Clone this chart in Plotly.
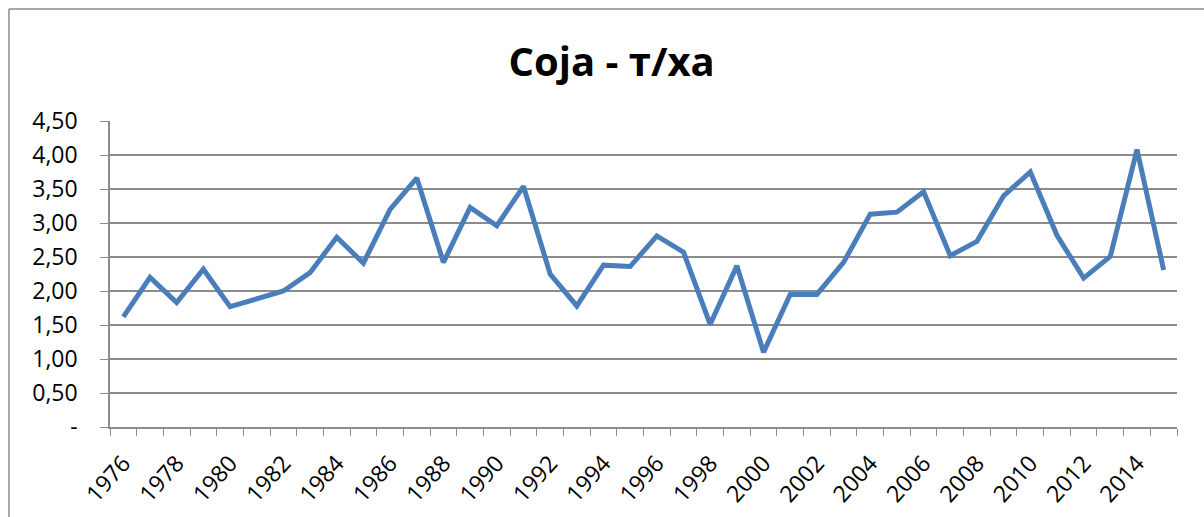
import plotly.graph_objects as go

# Soybean yield, t/ha, by year
years = list(range(1976, 2016))
yields = [1.62, 2.20, 1.83, 2.32, 1.77, 1.89, 2.00, 2.27, 2.79, 2.41,
          3.20, 3.66, 2.42, 3.23, 2.96, 3.54, 2.25, 1.78, 2.38, 2.36,
          2.81, 2.57, 1.51, 2.37, 1.10, 1.95, 1.95, 2.42, 3.13, 3.16,
          3.46, 2.52, 2.73, 3.40, 3.75, 2.82, 2.19, 2.51, 4.08, 2.31]

y_ticks = [0, 0.5, 1.0, 1.5, 2.0, 2.5, 3.0, 3.5, 4.0, 4.5]
y_labels = ["-", "0,50", "1,00", "1,50", "2,00", "2,50", "3,00", "3,50", "4,00", "4,50"]
x_ticks = list(range(1976, 2016, 2))

FONT = "Open Sans"
GRID = "#8c8c8c"

fig = go.Figure()
fig.add_trace(go.Scatter(
    x=years, y=yields, mode="lines",
    line=dict(color="#4a7ebb", width=5),
    showlegend=False, hoverinfo="x+y",
))

fig.update_layout(
    width=1204, height=517,
    margin=dict(l=110, r=27, t=121, b=90),
    paper_bgcolor="white", plot_bgcolor="white",
    font=dict(family=FONT, color="black", size=22),
    title=dict(text="<b>Соја - т/ха</b>", x=0.508, xanchor="center",
               y=0.88, yanchor="middle",
               font=dict(family=FONT, size=40, color="black")),
    xaxis=dict(
        range=[1975.5, 2015.5], tickmode="array", tickvals=x_ticks,
        ticktext=[str(v) for v in x_ticks], tickangle=-48,
        ticks="outside", ticklen=0, tickcolor=GRID,
        minor=dict(tick0=1975.5, dtick=1, ticks="outside", ticklen=7,
                   tickcolor=GRID, showgrid=False),
        showline=True, linecolor=GRID, linewidth=1.5,
        showgrid=False, zeroline=False, automargin=False,
        tickfont=dict(size=23), ticklabelstandoff=12,
    ),
    yaxis=dict(
        range=[0, 4.5], tickmode="array", tickvals=y_ticks, ticktext=y_labels,
        ticks="outside", ticklen=8, tickcolor=GRID,
        showline=True, linecolor=GRID, linewidth=1.5,
        showgrid=True, gridcolor=GRID, gridwidth=1.5,
        zeroline=False, automargin=False,
        tickfont=dict(size=23), ticklabelstandoff=18,
    ),
)

# Chart-area frame (left and top edges)
fig.add_shape(type="line", xref="paper", yref="paper",
              x0=-0.0947, x1=-0.0947, y0=1.366, y1=-0.4,
              line=dict(color="#8c8c8c", width=1.5))
fig.add_shape(type="line", xref="paper", yref="paper",
              x0=-0.0947, x1=1.05, y0=1.366, y1=1.366,
              line=dict(color="#8c8c8c", width=1.5))

fig.write_html("out.html")
